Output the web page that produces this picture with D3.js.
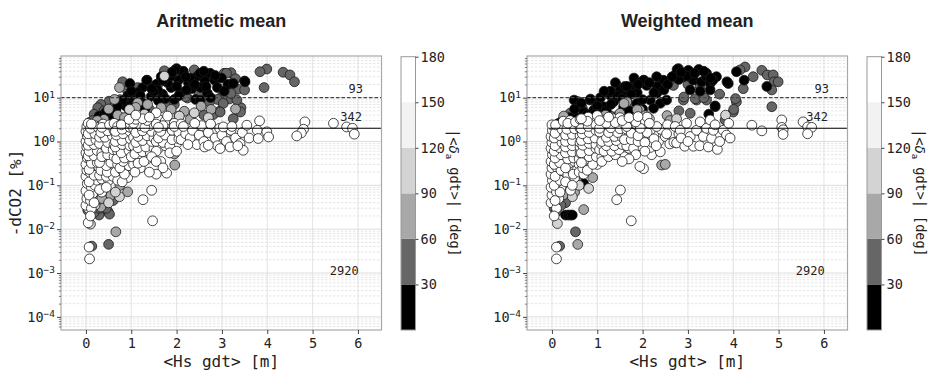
<!DOCTYPE html>
<html>
<head>
<meta charset="utf-8">
<script src="https://cdn.jsdelivr.net/npm/d3@7"></script>
<style>
  body { margin: 0; background: #fff; }
  svg text { font-family: "DejaVu Sans Mono", monospace; fill: #222; }
</style>
</head>
<body>
<svg id="chart" width="940" height="384"></svg>
<script>
// ---- data: [Hs, -dCO2 %] grouped by |<delta_a gdt>| bin ----
// Aritmetic mean panel
const aritBin0 = [[2.0,46],[2.14,34],[2.04,25],[1.88,17],[1.69,12],[1.35,25],[1.25,17],[1.14,13],[0.92,11],[1.03,7.6],[0.96,4.9],[0.77,3.5],[0.55,3.1],[0.29,3.8],[0.66,5.4],[1.25,7.6],[1.55,20],[1.66,30],[1.8,22],[2.26,22],[2.46,31],[2.62,25],[2.84,25],[2.99,28],[3.13,20],[2.68,12.6],[2.42,9.1],[3.5,24],[2.33,16],[2.09,13],[1.95,9.1],[0.88,6.4],[0.4,4.2],[1.44,10.7],[1.58,15],[1.88,31],[2.53,17],[2.9,17],[3.51,23],[3.25,21],[2.74,36],[2.52,36],[2.52,8.8],[2.22,15],[1.1,9],[0.8,8.5],[1.5,14],[2.15,40],[2.3,28],[1.75,9.5],[0.6,4.2],[0.35,2.8],[0.2,2.6],[0.48,3.6],[1.3,5.5],[0.97,21],[1.34,25],[1.96,42],
  [0.45,4.8],[0.7,6.5],[1.0,14],[1.2,11],[0.6,3.3],[1.7,25],[1.9,38],[2.2,30],[2.4,20],[2.65,18],[2.85,32],[3.05,14],[2.0,18],[1.45,16],[2.6,40],[2.05,11],[1.6,8.5],[2.75,10]];
const aritBin1 = [[2.39,43],[3.05,36],[3.2,37],[3.35,15.5],[3.42,5.9],[3.17,9.4],[3.02,7.6],[2.95,4.9],[2.81,4.1],[3.0,10.7],[2.9,9.1],[3.99,45],[4.35,38],[4.5,33],[4.6,23],[3.93,17],[3.84,39],[0.85,17],[0.81,23],[0.51,8.3],[0.33,7],[0.26,5.9],[0.18,4.2],[0.07,2.7],[0.55,4.5],[1.14,17],[1.58,10.7],[1.73,41],[1.62,22],[2.24,9.8],[1.77,7.6],[1.4,5.4],[2.68,31],[3.24,22],[3.33,8.8],[3.41,4.7],[3.03,7.4],[2.96,4.7],[3.1,36],[2.72,8],[1.0,3.0],[0.7,2.5],[0.45,2.2],[2.6,4.0],[3.25,3.3],
  [0.3,3.2],[0.6,6],[0.75,9],[0.4,5.0],[0.9,7.5],[0.15,3.0],[0.55,2.7],[2.2,10.5],[2.5,12],[1.95,7],[3.2,12.5],[3.5,15],[3.3,27],
  [0.49,0.025],[0.52,0.022],[0.29,0.021],[0.04,0.027],[0.5,0.0045],[0.13,0.0041],[0.35,0.035],[0.45,0.03],[0.2,0.05],[0.1,0.08],[0.6,0.045],[0.18,0.024],[0.3,0.03],[0.42,0.04]];
const aritBin2 = [[0.74,17],[0.63,9.1],[1.14,7.6],[1.36,7],[1.66,5.9],[1.88,5.4],[2.17,4.9],[2.54,6.4],[0.4,3.2],[0.18,2.0],[2.76,5.4],[1.96,0.29],[1.95,0.52],[0.66,0.0087],[0.33,0.032],[0.15,0.03],[0.4,0.059],[0.92,0.071],[0.2,0.12],[0.55,0.15],[0.75,0.1],[1.2,3.3],[0.9,2.8],[1.5,3.6],[2.3,3.2],[2.05,3.8],[0.3,0.4],[0.6,0.3],[0.9,0.6],[3.3,5.5],
  [0.25,3.0],[0.5,5.5],[0.7,4.0],[0.85,3.5],[1.1,6.0],[0.35,2.4],[0.25,0.045],[0.35,0.05],[0.55,0.06],[0.12,0.04]];
const aritBin3 = [[0.96,5.4],[1.29,4.2],[2.06,3.8],[2.39,4.5],[1.73,31],[0.74,0.055],[0.1,0.013],[0.3,0.09],[0.85,0.3],[1.1,0.25],[0.05,0.06],[1.8,3.0],[2.7,3.5],[0.5,0.8],[1.3,1.3],[0.2,0.035],[0.5,0.04],[0.65,0.07]];
const aritBin4 = [[0.3,0.7],[0.65,1.3],[1.1,1.8],[0.45,0.33],[0.8,0.45],[1.4,1.5],[2.0,1.8],[2.6,1.8],[0.18,0.08],[0.6,0.75],[1.5,0.85],[0.85,0.95],[0.25,1.55],[3.1,1.6],[0.05,0.03]];
const aritBin5 = [[0.0,0.035],[0.02,0.05],[0.0,0.075],[0.03,0.11],[0.0,0.16],[0.02,0.22],[0.0,0.3],[0.03,0.42],[0.0,0.55],[0.02,0.75],[0.0,1.0],[0.03,1.35],[0.0,1.7],[0.02,2.2],[0.05,2.6],
  [0.12,0.03],[0.1,0.045],[0.15,0.065],[0.12,0.09],[0.2,0.1],[0.15,0.14],[0.25,0.13],[0.1,0.19],[0.22,0.2],[0.15,0.28],[0.28,0.26],[0.1,0.38],[0.22,0.4],[0.15,0.55],[0.28,0.5],[0.1,0.7],[0.22,0.75],[0.15,0.95],[0.28,1.0],[0.12,1.25],[0.25,1.35],[0.15,1.7],[0.28,1.8],[0.2,2.3],
  [0.07,0.06],[0.18,0.04],[0.07,0.12],[0.18,0.17],[0.07,0.23],[0.12,0.32],[0.25,0.33],[0.05,0.47],[0.18,0.47],[0.07,0.6],[0.25,0.62],[0.05,0.82],[0.18,0.85],[0.08,1.05],[0.22,1.1],[0.05,1.5],[0.2,1.5],[0.1,2.0],[0.27,2.1],[0.12,2.5],
  [0.35,0.07],[0.4,0.1],[0.35,0.14],[0.5,0.13],[0.4,0.19],[0.55,0.18],[0.38,0.27],[0.5,0.25],[0.6,0.3],[0.4,0.38],[0.55,0.42],[0.35,0.55],[0.48,0.6],[0.6,0.55],[0.4,0.8],[0.55,0.85],[0.35,1.1],[0.5,1.2],[0.6,1.0],[0.4,1.5],[0.55,1.6],[0.45,2.0],[0.6,2.1],[0.38,2.5],
  [0.3,0.08],[0.45,0.09],[0.3,0.17],[0.45,0.16],[0.6,0.16],[0.33,0.22],[0.47,0.2],[0.45,0.28],[0.55,0.33],[0.3,0.33],[0.35,0.45],[0.48,0.5],[0.62,0.45],[0.3,0.9],[0.45,0.7],[0.6,0.65],[0.48,0.95],[0.62,0.85],[0.3,1.25],[0.42,1.25],[0.58,1.35],[0.33,1.6],[0.48,1.75],[0.62,1.8],[0.35,2.1],[0.52,2.4],[0.62,2.6],
  [0.7,0.13],[0.65,0.2],[0.8,0.22],[0.7,0.3],[0.9,0.35],[0.75,0.42],[0.9,0.5],[0.7,0.6],[0.85,0.7],[0.72,0.85],[0.92,0.95],[0.7,1.15],[0.85,1.25],[0.95,1.4],[0.75,1.6],[0.9,1.85],[0.7,2.2],[0.88,2.4],[0.95,0.2],[0.92,0.15],
  [0.8,0.12],[0.85,0.18],[0.75,0.25],[0.95,0.28],[0.82,0.35],[0.68,0.4],[0.85,0.42],[0.78,0.55],[0.95,0.62],[0.65,0.75],[0.8,0.85],[0.97,0.8],[0.65,1.0],[0.8,1.05],[0.98,1.15],[0.67,1.4],[0.82,1.5],[0.97,1.7],[0.65,1.7],[0.8,1.9],[0.97,2.1],[0.78,2.4],[0.98,2.5],
  [1.05,0.3],[1.15,0.38],[1.0,0.45],[1.2,0.5],[1.1,0.6],[1.3,0.65],[1.05,0.8],[1.25,0.85],[1.4,0.8],[1.15,1.0],[1.35,1.05],[1.05,1.25],[1.25,1.3],[1.45,1.25],[1.15,1.6],[1.35,1.7],[1.05,2.0],[1.25,2.1],[1.45,2.0],[1.15,2.6],[1.35,2.7],[1.45,0.077],[1.26,0.047],[1.47,0.0155],[1.35,0.4],[1.5,0.55],[1.2,0.25],
  [1.08,0.2],[1.15,0.32],[1.28,0.35],[1.08,0.52],[1.25,0.58],[1.42,0.55],[1.15,0.72],[1.32,0.75],[1.5,0.7],[1.1,0.95],[1.25,1.05],[1.45,1.0],[1.15,1.3],[1.35,1.35],[1.5,1.2],[1.1,1.6],[1.25,1.75],[1.45,1.7],[1.2,2.3],[1.4,2.3],[1.05,2.6],[1.3,2.1],[1.1,3.2],[1.6,3.2],[1.35,3.0],
  [1.6,0.7],[1.75,0.8],[1.9,0.7],[1.55,1.0],[1.7,1.2],[1.85,1.0],[2.0,0.9],[1.6,1.5],[1.8,1.6],[1.95,1.3],[1.65,2.0],[1.85,2.2],[1.55,2.5],[1.75,2.9],[1.95,2.6],[1.78,0.19],[1.65,0.35],
  [1.55,0.6],[1.7,0.95],[1.85,0.8],[1.6,1.2],[1.75,1.4],[1.9,1.1],[2.05,1.15],[1.65,1.7],[1.9,1.8],[2.05,1.6],[1.7,2.3],[1.95,2.2],[2.1,2.5],[1.6,2.1],[1.85,0.55],[2.0,0.6],[1.45,0.45],[1.55,0.35],[1.7,0.25],[1.55,0.18],[1.4,0.2],
  [1.25,3.3],[1.55,4.5],[1.4,3.6],[1.8,3.8],[0.95,3.2],[1.1,4.0],
  [2.1,1.1],[2.2,1.5],[2.15,2.2],[2.3,1.2],[2.35,1.8],[2.45,0.85],[2.5,1.4],[2.55,2.3],[2.6,1.0],[2.7,1.6],[2.75,2.5],[2.85,1.2],[2.9,0.8],[2.95,2.0],[3.0,1.4],[3.1,1.0],[3.18,0.75],[3.2,1.8],[3.03,2.15],[3.22,2.2],[3.3,1.2],[3.4,0.9],[3.47,0.63],[3.45,1.6],[3.55,2.35],[3.6,1.2],[2.96,0.69],[2.62,0.75],[2.25,0.85],[2.4,2.6],[2.7,0.82],[3.35,0.8],
  [3.83,2.95],[3.78,1.8],[3.99,1.66],[4.03,1.27],[3.8,1.17],[4.83,2.8],[4.8,1.9],[4.75,1.57],[4.65,1.34],[5.46,2.6],[5.75,2.15],[5.88,2.0],[5.92,1.47],
  [0.07,0.0039],[0.08,0.0021],[0.05,0.014],[0.1,0.02]];

// Weighted mean panel
const weighBin0 = [[4.07,39],[4.24,25],[4.74,18],[3.89,21],[3.86,23],[2.79,46],[3.01,42],[3.23,42],[3.41,36],[3.63,30],[2.72,33],[2.9,30],[3.12,25],[3.3,23],[3.49,21],[3.55,25],[3.49,15],[3.6,6.2],[3.46,4.2],[2.46,25],[2.31,30],[2.09,19],[2.02,25],[1.83,23],[1.8,16],[1.65,11.4],[1.5,15],[1.28,11.4],[1.36,8],[1.14,6.2],[0.99,7.4],[0.84,8.8],[0.92,5.2],[0.7,4.7],[1.58,6.2],[1.87,7.4],[2.17,8.8],[2.39,7.4],[2.53,8.8],[2.31,12.5],[2.24,5.7],[1.61,18],[0.15,2.6],[0.22,2.9],[0.49,8.8],[2.76,44],[3.24,44],[2.98,31],[3.4,31],[2.8,26],[3.05,15],[3.27,14],[3.6,6.5],[1.81,28],[2.03,25],[2.32,18],[2.47,15],[2.25,13],[1.88,13],[1.66,18],[1.44,11],[1.29,14],[1.07,10],[0.85,9.3],[1.0,6.4],[0.78,4.1],[0.41,3.5],[0.26,2.6],[0.19,2.0],[0.55,3.5],[1.05,4.2],
  [0.35,2.4],[0.6,3.0],[0.8,3.4],[0.95,4.2],[1.2,5.0],[1.3,7],[1.55,9.5],[1.75,12],[2.0,9],[1.9,20],[2.15,22],[2.55,20],[2.85,38],[3.15,36],[3.35,40],[3.5,28],[2.65,30],[1.4,22],[1.15,14],[0.5,5.5],[0.65,7.5],[1.7,5],[2.0,5.5],
  [0.7,0.11],[0.3,0.021],[0.36,0.021],[0.41,0.021],[0.45,0.021]];
const weighBin1 = [[4.26,50],[4.22,16],[4.44,30],[4.63,42],[4.75,33],[4.88,33],[4.9,23],[4.99,23],[4.85,15],[4.85,6.2],[4.07,8],[4.0,4.7],[3.27,18],[2.9,8.8],[3.19,8.8],[3.41,8.8],[3.05,4.4],[2.68,19],[0.62,6.7],[0.4,4.4],[0.59,8],[1.43,19],[0.33,3.6],[1.44,17],[0.56,8.1],[0.67,5.8],[1.66,7.9],[1.81,5.8],[1.44,3.8],[2.91,10.3],[3.16,9.4],[3.35,10],[4.01,5.4],[4.05,9.5],[3.82,3.1],[2.6,25],[4.15,43],
  [0.45,3.0],[0.8,2.6],[1.1,2.8],[0.3,3.2],[1.3,3.8],[2.8,5.0],[3.7,12],[3.0,20],
  [0.52,0.0087],[0.17,0.0041],[0.05,0.03],[0.1,0.025],[0.2,0.05],[0.3,0.04],[0.08,0.06],[0.35,0.07],[0.2,0.035]];
const weighBin2 = [[1.65,8],[1.94,5.2],[0.55,2.35],[1.5,4.4],[1.59,7.4],[1.88,5.3],[2.06,3.9],[2.54,3.9],[1.18,4.0],[0.26,3.8],[2.6,3.0],[2.42,0.29],[2.5,0.3],[0.7,0.028],[0.57,0.0045],[0.3,0.1],[0.5,0.07],[0.9,0.15],[0.15,0.2],[0.25,0.06],[0.4,0.09],[0.15,0.11],[0.55,0.12]];
const weighBin3 = [[2.75,3.3],[3.83,4.0],[0.12,0.0134],[0.81,0.085],[2.15,3.3],[1.3,3.2],[0.45,0.5],[1.0,0.35],[0.45,0.055],[0.3,0.15],[0.6,0.1]];
const weighBin4 = [[0.3,0.8],[0.65,1.5],[1.2,2.0],[0.45,0.28],[0.85,0.5],[1.4,1.1],[2.1,1.3],[2.8,1.5],[0.2,0.1],[0.62,0.85],[1.6,1.3],[0.9,1.1],[3.3,1.6],[0.05,0.045]];
const weighBin5 = [[-0.02,0.04],[0.0,0.06],[-0.02,0.09],[0.01,0.13],[-0.02,0.18],[0.0,0.25],[-0.02,0.35],[0.01,0.5],[-0.02,0.7],[0.0,0.95],[-0.02,1.3],[0.01,1.8],[0.0,2.4],
  [0.1,0.03],[0.15,0.05],[0.1,0.07],[0.2,0.09],[0.12,0.12],[0.25,0.14],[0.15,0.18],[0.28,0.2],[0.1,0.26],[0.22,0.3],[0.15,0.4],[0.28,0.45],[0.1,0.55],[0.22,0.65],[0.15,0.85],[0.28,0.9],[0.1,1.1],[0.22,1.25],[0.15,1.6],[0.28,1.7],[0.12,2.1],[0.25,2.4],
  [0.07,0.045],[0.18,0.07],[0.05,0.1],[0.18,0.13],[0.07,0.16],[0.2,0.22],[0.05,0.3],[0.17,0.33],[0.07,0.42],[0.2,0.5],[0.05,0.6],[0.17,0.72],[0.07,0.8],[0.22,0.95],[0.05,1.2],[0.18,1.35],[0.07,1.55],[0.22,1.9],[0.08,2.4],[0.25,2.9],
  [0.41,0.077],[0.4,0.12],[0.35,0.17],[0.5,0.15],[0.42,0.23],[0.55,0.22],[0.38,0.32],[0.5,0.35],[0.6,0.3],[0.4,0.45],[0.55,0.5],[0.35,0.62],[0.48,0.7],[0.6,0.65],[0.4,0.9],[0.55,0.95],[0.35,1.2],[0.5,1.3],[0.6,1.1],[0.4,1.6],[0.55,1.75],[0.45,2.2],[0.6,2.4],[0.4,3.0],
  [0.3,0.12],[0.45,0.1],[0.3,0.25],[0.47,0.18],[0.6,0.2],[0.35,0.4],[0.48,0.42],[0.6,0.4],[0.3,0.55],[0.45,0.58],[0.62,0.55],[0.3,0.75],[0.45,0.8],[0.62,0.75],[0.3,1.0],[0.45,1.05],[0.62,0.95],[0.3,1.4],[0.45,1.45],[0.62,1.35],[0.33,1.9],[0.5,1.95],[0.62,2.0],[0.35,2.6],[0.52,2.8],[0.62,3.2],
  [0.7,0.18],[0.68,0.25],[0.8,0.28],[0.72,0.38],[0.9,0.4],[0.75,0.5],[0.92,0.55],[0.7,0.7],[0.85,0.75],[0.72,0.95],[0.95,1.0],[0.7,1.25],[0.85,1.35],[0.98,1.5],[0.75,1.7],[0.9,2.0],[0.7,2.5],[0.88,2.7],[0.95,3.2],[0.8,3.6],[1.0,0.3],
  [0.78,0.22],[0.9,0.3],[0.65,0.33],[0.82,0.45],[0.98,0.45],[0.65,0.55],[0.82,0.62],[0.97,0.7],[0.68,0.82],[0.82,0.9],[0.97,0.85],[0.65,1.05],[0.8,1.15],[0.95,1.2],[0.67,1.5],[0.82,1.6],[0.97,1.8],[0.65,1.95],[0.8,2.2],[0.97,2.4],[0.78,2.9],[0.65,3.3],
  [1.1,0.45],[1.2,0.55],[1.05,0.65],[1.25,0.7],[1.4,0.65],[1.1,0.85],[1.3,0.9],[1.45,0.85],[1.15,1.1],[1.35,1.15],[1.5,1.05],[1.1,1.4],[1.3,1.5],[1.45,1.35],[1.2,1.8],[1.4,1.9],[1.55,1.7],[1.1,2.3],[1.3,2.5],[1.5,2.3],[1.15,3.0],[1.35,3.3],[1.0,3.9],[1.5,3.5],[1.51,0.078],[1.43,0.047],[1.75,0.0155],[1.6,0.45],[1.7,0.7],
  [1.1,0.35],[1.25,0.45],[1.4,0.5],[1.15,0.6],[1.32,0.6],[1.48,0.65],[1.2,0.8],[1.38,0.8],[1.55,0.85],[1.1,1.0],[1.25,1.0],[1.42,1.05],[1.2,1.25],[1.38,1.3],[1.55,1.25],[1.05,1.65],[1.25,1.6],[1.45,1.6],[1.05,2.0],[1.3,2.05],[1.5,1.95],[1.2,2.6],[1.4,2.7],[1.05,3.0],[1.25,3.6],
  [1.65,1.0],[1.8,0.9],[1.95,0.8],[1.7,1.3],[1.85,1.2],[2.0,1.1],[1.65,1.9],[1.8,1.7],[1.95,1.5],[1.72,2.6],[1.87,2.4],[2.05,2.2],[1.58,2.6],[1.8,3.2],[2.0,3.0],[2.2,0.5],[2.17,0.73],[2.39,0.58],[2.02,0.24],[1.94,0.27],[2.21,0.96],[2.35,1.0],[2.5,1.3],[2.25,1.5],[2.4,1.9],[2.17,1.8],[2.31,2.2],[2.55,2.4],[2.6,0.88],[2.69,0.96],[2.53,1.5],[2.72,2.2],[2.1,3.6],
  [1.65,0.8],[1.8,0.7],[1.6,1.1],[1.75,1.1],[1.9,1.0],[2.05,0.95],[1.75,1.55],[1.9,1.35],[2.1,1.6],[1.65,2.2],[1.95,2.0],[2.15,2.6],[1.85,2.8],[1.55,3.0],[1.7,3.5],[1.9,3.7],[2.25,1.15],[2.3,0.8],[2.05,0.6],[1.85,0.5],[1.7,0.4],[1.55,0.35],
  [2.75,0.93],[2.83,1.8],[2.93,0.78],[2.97,2.6],[3.05,1.3],[3.12,0.78],[3.19,1.8],[3.26,0.8],[3.27,2.8],[3.34,1.3],[3.41,2.0],[3.45,0.75],[3.49,3.1],[3.52,1.18],[3.56,1.8],[3.65,0.66],[3.78,1.8],[3.85,1.4],[3.93,1.2],[2.85,1.2],[3.0,1.0],[3.6,2.4],[3.9,2.6],[3.7,1.0],
  [4.41,2.35],[4.63,1.75],[5.07,3.1],[5.07,2.1],[5.1,1.85],[5.1,1.45],[5.54,2.8],[5.64,2.15],[5.73,2.1],[5.64,1.5],
  [0.1,0.0039],[0.1,0.0021],[0.05,0.02]];

// colour bins of |<delta_a gdt>| [deg]
const binEdges = [30, 60, 90, 120, 150];
const binMids = [15, 45, 75, 105, 135, 165];
const binColors = ["#000000", "#666666", "#a8a8a8", "#d3d3d3", "#f2f2f2", "#ffffff"];
const cbTicks = [30, 60, 90, 120, 150, 180];
const xTicks = [0, 1, 2, 3, 4, 5, 6];
const yTicks = [1e-4, 1e-3, 1e-2, 1e-1, 1, 10];
const dashedLevel = 10;   // upper threshold
const solidLevel = 2;     // lower threshold
const countLabels = ["93", "342", "2920"];

const drawOrder = [1, 0, 2, 3, 4, 5];

const panels = [
  { title: "Aritmetic mean", left: 61, cbLeft: 401, bins: [aritBin0, aritBin1, aritBin2, aritBin3, aritBin4, aritBin5], yLabel: true },
  { title: "Weighted mean", left: 527, cbLeft: 867, bins: [weighBin0, weighBin1, weighBin2, weighBin3, weighBin4, weighBin5], yLabel: false }
];

const svg = d3.select("#chart");
const plotTop = 56, W = 320.5, H = 274;

const color = d3.scaleThreshold().domain(binEdges).range(binColors);
const x = d3.scaleLinear().domain([-0.55, 6.52]).range([0, W]);
const y = d3.scaleLog().domain([Math.pow(10, -4.3), Math.pow(10, 1.95)]).range([H, 0]);

// minor log ticks inside the domain
let minor = [];
for (let d = -5; d <= 1; d++) {
  for (let m = 2; m <= 9; m++) {
    let v = m * Math.pow(10, d);
    if (v > y.domain()[0] && v < y.domain()[1]) minor.push(v);
  }
}

function expText(v) {
  let e = Math.round(Math.log10(v));
  return String(e).replace("-", "\u2212");
}

panels.forEach((p, pi) => {
  const g = svg.append("g").attr("transform", `translate(${p.left},${plotTop})`);

  g.append("clipPath").attr("id", "clip" + pi)
    .append("rect").attr("width", W).attr("height", H);

  // grid
  const grid = g.append("g");
  grid.selectAll(".gminor").data(minor).join("line")
    .attr("x1", 0).attr("x2", W)
    .attr("y1", d => y(d)).attr("y2", d => y(d))
    .attr("stroke", "#dedede").attr("stroke-width", 0.8)
    .attr("stroke-dasharray", "2.5,1.5");
  grid.selectAll(".gmajor").data(yTicks).join("line")
    .attr("x1", 0).attr("x2", W)
    .attr("y1", d => y(d)).attr("y2", d => y(d))
    .attr("stroke", "#d6d6d6").attr("stroke-width", 0.8);
  grid.selectAll(".gx").data(xTicks).join("line")
    .attr("x1", d => x(d)).attr("x2", d => x(d))
    .attr("y1", 0).attr("y2", H)
    .attr("stroke", "#dcdcdc").attr("stroke-width", 0.8);

  // scatter points
  const pts = g.append("g").attr("clip-path", `url(#clip${pi})`);
  drawOrder.forEach(b => {
    pts.append("g").selectAll("circle").data(p.bins[b]).join("circle")
      .attr("cx", d => x(d[0]))
      .attr("cy", d => y(d[1]))
      .attr("r", 4.9)
      .attr("fill", color(binMids[b]))
      .attr("stroke", "#1a1a1a")
      .attr("stroke-width", 0.8);
  });

  // threshold lines
  g.append("line")
    .attr("x1", 0).attr("x2", W)
    .attr("y1", y(dashedLevel)).attr("y2", y(dashedLevel))
    .attr("stroke", "#444").attr("stroke-width", 1.1)
    .attr("stroke-dasharray", "3.5,2");
  g.append("line")
    .attr("x1", x(-0.06)).attr("x2", W)
    .attr("y1", y(solidLevel)).attr("y2", y(solidLevel))
    .attr("stroke", "#000").attr("stroke-width", 1.1);

  // counts
  g.append("text").attr("x", x(5.95)).attr("y", y(dashedLevel) - 5)
    .attr("text-anchor", "middle").attr("font-size", "12px").text(countLabels[0]);
  g.append("text").attr("x", x(5.85)).attr("y", y(solidLevel) - 7)
    .attr("text-anchor", "middle").attr("font-size", "12px").text(countLabels[1]);
  g.append("text").attr("x", x(5.7)).attr("y", y(0.001) + 2)
    .attr("text-anchor", "middle").attr("font-size", "12px").text(countLabels[2]);

  // frame
  g.append("rect").attr("width", W).attr("height", H)
    .attr("fill", "none").attr("stroke", "#a8a8a8").attr("stroke-width", 1.2);

  // axes
  const xa = g.append("g").attr("transform", `translate(0,${H})`)
    .call(d3.axisBottom(x).tickValues(xTicks).tickSize(4).tickPadding(4).tickFormat(d3.format("d")));
  xa.select(".domain").remove();
  xa.selectAll("line").attr("stroke", "#444");
  xa.selectAll("text").attr("font-size", "13.5px").attr("font-family", "DejaVu Sans Mono");

  const ya = g.append("g")
    .call(d3.axisLeft(y).tickValues(yTicks).tickSize(4).tickPadding(2));
  ya.select(".domain").remove();
  ya.selectAll("line").attr("stroke", "#444");
  ya.selectAll("text").attr("font-size", "13.5px").attr("font-family", "DejaVu Sans Mono")
    .each(function(d) {
      const t = d3.select(this);
      t.text(null);
      t.append("tspan").text("10");
      t.append("tspan").attr("dy", "-0.5em").attr("font-size", "9.5px").text(expText(d));
    });

  const ym = g.append("g")
    .call(d3.axisLeft(y).tickValues(minor).tickSize(2.2).tickFormat(""));
  ym.select(".domain").remove();
  ym.selectAll("line").attr("stroke", "#555").attr("stroke-width", 0.7);

  // titles and labels
  svg.append("text").attr("x", p.left + W / 2).attr("y", 27)
    .attr("text-anchor", "middle")
    .style("font-family", "'Liberation Sans', Arial, sans-serif")
    .style("font-weight", "bold").style("font-size", "18px")
    .text(p.title);

  svg.append("text").attr("x", p.left + W / 2).attr("y", 367)
    .attr("text-anchor", "middle").attr("font-size", "16px")
    .text("<Hs gdt> [m]");

  if (p.yLabel) {
    svg.append("text")
      .attr("transform", `translate(21,${plotTop + H / 2}) rotate(-90)`)
      .attr("text-anchor", "middle").attr("font-size", "16px")
      .text("-dCO2 [%]");
  }

  // colorbar
  const cbW = 14.5;
  const cy = d3.scaleLinear().domain([0, 180]).range([330, 56.7]);
  const cb = svg.append("g").attr("transform", `translate(${p.cbLeft},0)`);
  const bounds = [0].concat(binEdges).concat([180]);
  cb.selectAll("rect.bin").data(binColors).join("rect")
    .attr("x", 0).attr("width", cbW)
    .attr("y", (c, i) => cy(bounds[i + 1]))
    .attr("height", (c, i) => cy(bounds[i]) - cy(bounds[i + 1]))
    .attr("fill", c => c);
  cb.append("rect").attr("x", 0).attr("y", cy(180)).attr("width", cbW)
    .attr("height", cy(0) - cy(180))
    .attr("fill", "none").attr("stroke", "#999").attr("stroke-width", 1);
  const ca = cb.append("g").attr("transform", `translate(${cbW},0)`)
    .call(d3.axisRight(cy).tickValues(cbTicks).tickSize(3).tickPadding(2));
  ca.select(".domain").remove();
  ca.selectAll("line").attr("stroke", "#444");
  ca.selectAll("text").attr("font-size", "13.5px").attr("font-family", "DejaVu Sans Mono");

  const lab = cb.append("text")
    .attr("transform", `translate(${cbW + 33},193) rotate(90)`)
    .attr("text-anchor", "middle").attr("font-size", "13.5px");
  lab.append("tspan").text("|<");
  lab.append("tspan").attr("font-style", "italic").attr("font-family", "DejaVu Sans").text("\u03b4");
  lab.append("tspan").attr("font-size", "9px").attr("dy", "0.3em").text("a");
  lab.append("tspan").attr("dy", "-0.3em").text(" gdt>|  [deg]");
});
</script>
</body>
</html>
